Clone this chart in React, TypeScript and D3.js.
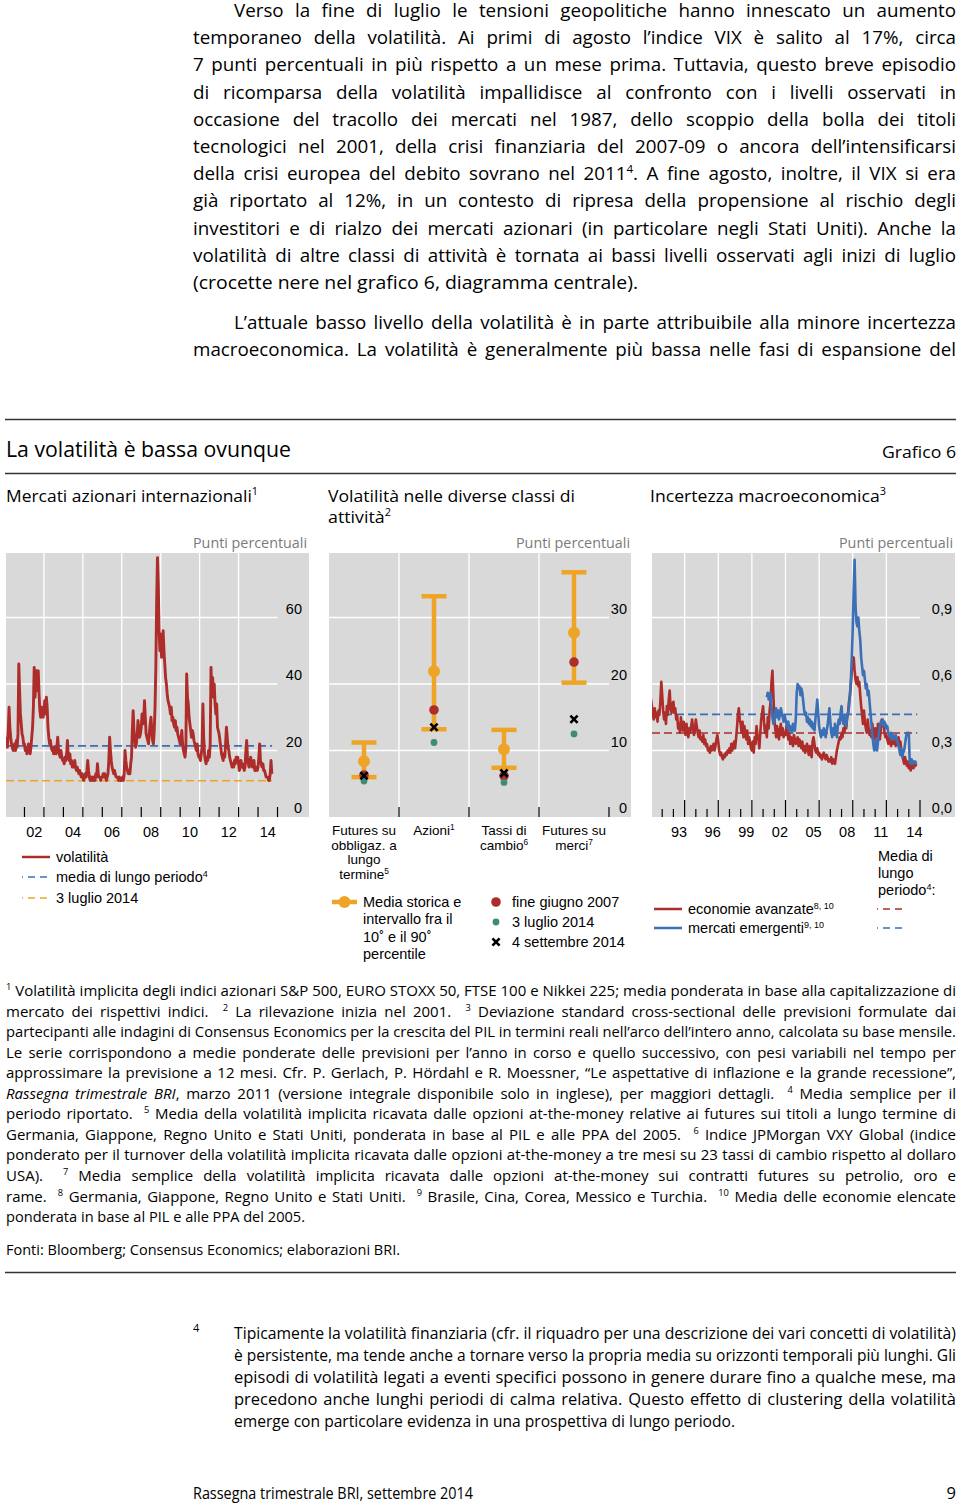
import React, { useEffect, useRef } from "react";
import * as d3 from "d3";

// ---------------- DATA ----------------
// Panel 1: implied equity volatility, semi-monthly readings, Jan 2001 – Sep 2014
const equityVolatility: number[] = [
  // 2001
  24, 22, 23, 21, 26, 33, 27, 24, 22, 21, 20, 21, 22, 20, 23, 21, 25, 46, 38, 31, 28, 25, 24, 22,
  // 2002
  22, 20, 21, 19, 20, 22, 20, 19, 21, 24, 27, 33, 45, 36, 40, 44, 38, 44, 37, 32, 30, 33, 31, 30,
  // 2003
  32, 35, 31, 36, 33, 27, 24, 22, 23, 21, 20, 21, 19, 21, 20, 19, 21, 24, 20, 19, 18, 20, 18, 17,
  // 2004
  17, 16, 18, 17, 19, 23, 18, 17, 19, 16, 17, 15, 16, 15, 17, 15, 14, 15, 14, 13, 14, 13, 12, 13,
  // 2005
  12, 11, 12, 13, 12, 14, 17, 14, 12, 11, 12, 11, 12, 11, 12, 11, 13, 12, 16, 13, 12, 12, 11, 12,
  // 2006
  12, 13, 12, 13, 12, 11, 12, 13, 17, 24, 20, 17, 15, 14, 13, 14, 13, 12, 12, 12, 11, 12, 11, 11,
  // 2007
  11, 12, 11, 13, 20, 17, 15, 14, 13, 14, 13, 16, 18, 26, 32, 26, 23, 21, 22, 25, 29, 26, 24, 25,
  // 2008
  27, 31, 28, 29, 35, 30, 25, 24, 23, 22, 25, 28, 30, 26, 23, 22, 26, 33, 45, 65, 78, 70, 56, 50,
  // 2009
  55, 48, 52, 56, 50, 46, 42, 40, 37, 35, 34, 33, 31, 33, 29, 30, 28, 27, 29, 26, 27, 25, 24, 23,
  // 2010
  22, 23, 26, 22, 20, 19, 18, 21, 43, 36, 34, 30, 28, 26, 24, 26, 25, 23, 22, 21, 20, 22, 19, 18,
  // 2011
  18, 17, 19, 21, 34, 24, 19, 17, 16, 18, 17, 20, 18, 22, 45, 38, 42, 36, 40, 34, 31, 34, 27, 26,
  // 2012
  25, 23, 21, 19, 18, 17, 19, 18, 22, 27, 24, 21, 20, 18, 17, 16, 15, 16, 15, 17, 16, 18, 17, 18,
  // 2013
  16, 14, 15, 17, 15, 16, 15, 14, 15, 20, 23, 18, 16, 15, 16, 18, 16, 15, 15, 17, 14, 14, 15, 14,
  // 2014
  15, 18, 22, 17, 16, 15, 16, 14, 14, 13, 12, 12, 12, 11, 11, 13, 17, 13,
];
const equityStartYear = 2001;
const equityLongTermMean = 21.4;
const equityJuly2014 = 10.9;
const equityYTicks = [0, 20, 40, 60];
const equityXLabels = [2002, 2004, 2006, 2008, 2010, 2012, 2014];

// Panel 2: volatility across asset classes
const assetKeys = ["bond", "equity", "fx", "commodity"];
const assetLabels: (string | { t: string; s?: boolean })[][][] = [
  [["Futures su"], ["obbligaz. a"], ["lungo"], ["termine", { t: "5", s: true }]],
  [["Azioni", { t: "1", s: true }]],
  [["Tassi di"], ["cambio", { t: "6", s: true }]],
  [["Futures su"], ["merci", { t: "7", s: true }]],
];
const histMean = [8.4, 21.9, 10.2, 27.7];
const pct10 = [6.0, 13.2, 7.4, 20.2];
const pct90 = [11.2, 33.2, 13.1, 36.8];
const endJune2007 = [6.3, 16.1, 6.2, 23.3];
const july2014 = [5.4, 11.2, 5.2, 12.5];
const sept2014 = [6.2, 13.5, 6.6, 14.7];
const assetYTicks = [0, 10, 20, 30];

// Panel 3: macroeconomic uncertainty, monthly
const advancedEconomies: number[] = [
  0.53, 0.50, 0.46, 0.44, 0.49, 0.45, 0.47, 0.43, 0.48, 0.46, 0.52, 0.61, // 1991
  0.55, 0.48, 0.44, 0.47, 0.42, 0.50, 0.46, 0.53, 0.57, 0.49, 0.47, 0.51, // 1992
  0.52, 0.47, 0.49, 0.44, 0.46, 0.40, 0.42, 0.38, 0.45, 0.41, 0.39, 0.43, // 1993
  0.40, 0.37, 0.42, 0.39, 0.36, 0.40, 0.38, 0.41, 0.44, 0.40, 0.37, 0.39, // 1994
  0.44, 0.41, 0.38, 0.36, 0.39, 0.35, 0.36, 0.34, 0.37, 0.33, 0.35, 0.32, // 1995
  0.33, 0.30, 0.31, 0.29, 0.32, 0.30, 0.31, 0.33, 0.30, 0.32, 0.35, 0.37, // 1996
  0.34, 0.30, 0.28, 0.29, 0.27, 0.26, 0.28, 0.27, 0.29, 0.28, 0.30, 0.29, // 1997
  0.31, 0.29, 0.33, 0.30, 0.32, 0.34, 0.31, 0.35, 0.40, 0.46, 0.49, 0.44, // 1998
  0.42, 0.38, 0.43, 0.36, 0.41, 0.37, 0.35, 0.39, 0.33, 0.36, 0.34, 0.31, // 1999
  0.30, 0.34, 0.29, 0.36, 0.33, 0.41, 0.37, 0.35, 0.31, 0.38, 0.44, 0.47, // 2000
  0.50, 0.43, 0.38, 0.41, 0.36, 0.45, 0.40, 0.48, 0.52, 0.61, 0.66, 0.55, // 2001
  0.45, 0.40, 0.36, 0.41, 0.38, 0.35, 0.39, 0.42, 0.37, 0.40, 0.36, 0.38, // 2002
  0.37, 0.41, 0.39, 0.35, 0.38, 0.33, 0.36, 0.34, 0.32, 0.37, 0.35, 0.33, // 2003
  0.34, 0.36, 0.32, 0.35, 0.33, 0.31, 0.34, 0.30, 0.32, 0.29, 0.31, 0.33, // 2004
  0.30, 0.28, 0.32, 0.29, 0.27, 0.34, 0.36, 0.33, 0.30, 0.29, 0.31, 0.28, // 2005
  0.29, 0.27, 0.28, 0.26, 0.28, 0.29, 0.27, 0.26, 0.28, 0.27, 0.25, 0.26, // 2006
  0.25, 0.27, 0.24, 0.26, 0.25, 0.24, 0.27, 0.30, 0.32, 0.34, 0.36, 0.35, // 2007
  0.38, 0.36, 0.40, 0.38, 0.42, 0.40, 0.45, 0.47, 0.52, 0.55, 0.60, 0.66, // 2008
  0.70, 0.72, 0.66, 0.62, 0.60, 0.63, 0.59, 0.61, 0.55, 0.50, 0.46, 0.42, // 2009
  0.48, 0.43, 0.40, 0.38, 0.44, 0.40, 0.37, 0.39, 0.36, 0.42, 0.38, 0.35, // 2010
  0.40, 0.37, 0.36, 0.42, 0.38, 0.35, 0.39, 0.44, 0.41, 0.43, 0.38, 0.36, // 2011
  0.37, 0.35, 0.33, 0.36, 0.34, 0.32, 0.35, 0.33, 0.36, 0.34, 0.32, 0.35, // 2012
  0.33, 0.36, 0.32, 0.34, 0.30, 0.28, 0.26, 0.24, 0.27, 0.25, 0.23, 0.25, // 2013
  0.22, 0.24, 0.21, 0.23, 0.24, 0.22, 0.24, 0.23, 0.24, // 2014
];
const advancedStart = 1991;
const emergingMarkets: number[] = [
  0.54, 0.56, 0.53, 0.55, 0.56, 0.50, 0.45, 0.42, // May–Dec 2001
  0.43, 0.47, 0.49, 0.45, 0.48, 0.44, 0.46, 0.49, 0.47, 0.45, 0.43, 0.46, // 2002
  0.44, 0.42, 0.40, 0.43, 0.39, 0.41, 0.40, 0.38, 0.42, 0.40, 0.39, 0.44, // 2003
  0.56, 0.60, 0.58, 0.59, 0.55, 0.58, 0.56, 0.52, 0.48, 0.46, 0.47, 0.43, // 2004
  0.45, 0.42, 0.44, 0.41, 0.43, 0.40, 0.42, 0.39, 0.44, 0.48, 0.53, 0.47, // 2005
  0.41, 0.38, 0.36, 0.39, 0.37, 0.40, 0.38, 0.36, 0.39, 0.41, 0.45, 0.49, // 2006
  0.43, 0.38, 0.36, 0.40, 0.37, 0.42, 0.39, 0.36, 0.41, 0.44, 0.42, 0.47, // 2007
  0.50, 0.44, 0.42, 0.46, 0.43, 0.41, 0.45, 0.47, 0.50, 0.55, 0.62, 0.72, // 2008
  0.85, 1.02, 1.16, 0.95, 0.88, 0.86, 0.90, 0.84, 0.80, 0.72, 0.68, 0.64, // 2009
  0.66, 0.62, 0.58, 0.60, 0.55, 0.57, 0.52, 0.47, 0.42, 0.37, 0.33, 0.30, // 2010
  0.32, 0.35, 0.30, 0.34, 0.38, 0.41, 0.43, 0.42, 0.44, 0.41, 0.43, 0.42, // 2011
  0.40, 0.41, 0.38, 0.37, 0.36, 0.38, 0.35, 0.37, 0.36, 0.35, 0.37, 0.35, // 2012
  0.34, 0.32, 0.30, 0.28, 0.31, 0.27, 0.29, 0.30, 0.33, 0.36, 0.38, 0.37, // 2013
  0.38, 0.25, 0.24, 0.26, 0.25, 0.24, 0.25, 0.25, 0.24, // 2014
];
const emergingStart = 2001 + 4 / 12;
const advancedMean = 0.379;
const emergingMean = 0.463;
const macroYTicks = [0, 0.3, 0.6, 0.9];
const macroXLabels = [1993, 1996, 1999, 2002, 2005, 2008, 2011, 2014];

// ---------------- TEXT ----------------
type Seg = string | { t: string; s?: boolean; i?: boolean };
const sup = (t: string): Seg => ({ t, s: true });

const para1: Seg[][] = [
  ["Verso la fine di luglio le tensioni geopolitiche hanno innescato un aumento"],
  ["temporaneo della volatilità. Ai primi di agosto l’indice VIX è salito al 17%, circa"],
  ["7 punti percentuali in più rispetto a un mese prima. Tuttavia, questo breve episodio"],
  ["di ricomparsa della volatilità impallidisce al confronto con i livelli osservati in"],
  ["occasione del tracollo dei mercati nel 1987, dello scoppio della bolla dei titoli"],
  ["tecnologici nel 2001, della crisi finanziaria del 2007-09 o ancora dell’intensificarsi"],
  ["della crisi europea del debito sovrano nel 2011", sup("4"), ". A fine agosto, inoltre, il VIX si era"],
  ["già riportato al 12%, in un contesto di ripresa della propensione al rischio degli"],
  ["investitori e di rialzo dei mercati azionari (in particolare negli Stati Uniti). Anche la"],
  ["volatilità di altre classi di attività è tornata ai bassi livelli osservati agli inizi di luglio"],
  ["(crocette nere nel grafico 6, diagramma centrale)."],
];
const para2: Seg[][] = [
  ["L’attuale basso livello della volatilità è in parte attribuibile alla minore incertezza"],
  ["macroeconomica. La volatilità è generalmente più bassa nelle fasi di espansione del"],
];
const notes: Seg[][] = [
  [sup("1"), " Volatilità implicita degli indici azionari S&P 500, EURO STOXX 50, FTSE 100 e Nikkei 225; media ponderata in base alla capitalizzazione di"],
  ["mercato dei rispettivi indici.  ", sup("2"), " La rilevazione inizia nel 2001.  ", sup("3"), " Deviazione standard cross-sectional delle previsioni formulate dai"],
  ["partecipanti alle indagini di Consensus Economics per la crescita del PIL in termini reali nell’arco dell’intero anno, calcolata su base mensile."],
  ["Le serie corrispondono a medie ponderate delle previsioni per l’anno in corso e quello successivo, con pesi variabili nel tempo per"],
  ["approssimare la previsione a 12 mesi. Cfr. P. Gerlach, P. Hördahl e R. Moessner, “Le aspettative di inflazione e la grande recessione”,"],
  [{ t: "Rassegna trimestrale BRI", i: true }, ", marzo 2011 (versione integrale disponibile solo in inglese), per maggiori dettagli.  ", sup("4"), " Media semplice per il"],
  ["periodo riportato.  ", sup("5"), " Media della volatilità implicita ricavata dalle opzioni at-the-money relative ai futures sui titoli a lungo termine di"],
  ["Germania, Giappone, Regno Unito e Stati Uniti, ponderata in base al PIL e alle PPA del 2005.  ", sup("6"), " Indice JPMorgan VXY Global (indice"],
  ["ponderato per il turnover della volatilità implicita ricavata dalle opzioni at-the-money a tre mesi su 23 tassi di cambio rispetto al dollaro"],
  ["USA).  ", sup("7"), " Media semplice della volatilità implicita ricavata dalle opzioni at-the-money sui contratti futures su petrolio, oro e"],
  ["rame.  ", sup("8"), " Germania, Giappone, Regno Unito e Stati Uniti.  ", sup("9"), " Brasile, Cina, Corea, Messico e Turchia.  ", sup("10"), " Media delle economie elencate"],
  ["ponderata in base al PIL e alle PPA del 2005."],
];
const footPara: Seg[][] = [
  ["Tipicamente la volatilità finanziaria (cfr. il riquadro per una descrizione dei vari concetti di volatilità)"],
  ["è persistente, ma tende anche a tornare verso la propria media su orizzonti temporali più lunghi. Gli"],
  ["episodi di volatilità legati a eventi specifici possono in genere durare fino a qualche mese, ma"],
  ["precedono anche lunghi periodi di calma relativa. Questo effetto di clustering della volatilità"],
  ["emerge con particolare evidenza in una prospettiva di lungo periodo."],
];

// ---------------- STYLE ----------------
const GRAY = "#d9d9d9";
const RED = "#ac2d2a";
const BLUE = "#3b6fb6";
const ORANGE = "#eea427";
const GREEN = "#3f8b74";
const BODY = "'Open Sans', 'Noto Sans', sans-serif";
const CH = "'Liberation Sans', Arial, sans-serif";

function T({ x, y, segs, size, family = BODY, w, mode, anchor, fill = "#000", supScale = 0.62 }: any) {
  return (
    <text
      x={x}
      y={y}
      fontSize={size}
      fontFamily={family}
      textAnchor={anchor}
      fill={fill}
      data-w={w}
      data-mode={mode}
      style={{ whiteSpace: "pre" }}
    >
      {segs.map((s: Seg, i: number) =>
        typeof s === "string" ? (
          <tspan key={i}>{s}</tspan>
        ) : (
          <tspan
            key={i}
            baselineShift={s.s ? "super" : undefined}
            fontSize={s.s ? size * supScale : undefined}
            fontStyle={s.i ? "italic" : undefined}
          >
            {s.t}
          </tspan>
        )
      )}
    </text>
  );
}

function fitAll(svg: SVGSVGElement) {
  d3.select(svg)
    .selectAll("text[data-w]")
    .each(function (this: any) {
      const el = this as SVGTextElement;
      const w = +(el.getAttribute("data-w") || 0);
      const mode = el.getAttribute("data-mode");
      el.style.wordSpacing = "0px";
      el.removeAttribute("textLength");
      el.removeAttribute("lengthAdjust");
      const w0 = el.getComputedTextLength();
      if (mode === "j") {
        const n = (el.textContent || "").split(" ").length - 1;
        const ws = n > 0 ? (w - w0) / n : 0;
        if (ws >= -0.6) {
          el.style.wordSpacing = `${ws}px`;
        } else {
          el.setAttribute("textLength", String(w));
          el.setAttribute("lengthAdjust", "spacingAndGlyphs");
        }
      } else {
        el.setAttribute("textLength", String(w));
        el.setAttribute("lengthAdjust", "spacingAndGlyphs");
      }
    });
}

export default function App() {
  const ref = useRef<SVGSVGElement>(null);
  useEffect(() => {
    document.body.style.margin = "0";
    if (ref.current) fitAll(ref.current);
    const f: any = (document as any).fonts;
    if (f && f.ready) f.ready.then(() => ref.current && fitAll(ref.current));
  }, []);

  // ---- panel 1 scales
  const x1 = d3.scaleLinear().domain([2001, 2015]).range([5, 277.5]);
  const y1 = d3.scaleLinear().domain([0, 80]).range([817, 551]);
  const eq = equityVolatility.map((v, i) => ({ t: equityStartYear + i / 24, v }));
  const line1 = d3
    .line<{ t: number; v: number }>()
    .x((d) => x1(d.t))
    .y((d) => y1(d.v));

  // ---- panel 2 scales
  const x2 = d3.scaleBand<string>().domain(assetKeys).range([329, 609]);
  const y2 = d3.scaleLinear().domain([0, 40]).range([817, 551]);
  const cx2 = (i: number) => (x2(assetKeys[i]) as number) + x2.bandwidth() / 2;

  // ---- panel 3 scales
  const x3 = d3.scaleLinear().domain([1991, 2015]).range([651, 920]);
  const y3 = d3.scaleLinear().domain([0, 1.2]).range([817, 551]);
  const ae = advancedEconomies.map((v, i) => ({ t: advancedStart + i / 12, v }));
  const em = emergingMarkets.map((v, i) => ({ t: emergingStart + i / 12, v }));
  const line3 = d3
    .line<{ t: number; v: number }>()
    .x((d) => x3(d.t))
    .y((d) => y3(d.v));
  const fmt3 = (v: number) => d3.format(".1f")(v).replace(".", ",");

  const TOP = 553;
  const BOT = 817;

  const Xmark = ({ cx, cy, r = 3.6 }: any) => (
    <g stroke="#000" strokeWidth={2.6} strokeLinecap="butt">
      <line x1={cx - r} y1={cy - r} x2={cx + r} y2={cy + r} />
      <line x1={cx - r} y1={cy + r} x2={cx + r} y2={cy - r} />
    </g>
  );

  return (
    <svg
      ref={ref}
      width={960}
      height={1504}
      viewBox="0 0 960 1504"
      style={{ position: "absolute", left: 0, top: 0, display: "block", background: "#fff" }}
    >
      <defs>
        <clipPath id="clip1">
          <rect x={6} y={TOP} width={272} height={BOT - TOP} />
        </clipPath>
        <clipPath id="clip3">
          <rect x={652} y={TOP} width={268} height={BOT - TOP} />
        </clipPath>
      </defs>

      {/* ---------- body text ---------- */}
      {para1.map((segs, i) => (
        <T
          key={"p1" + i}
          x={i === 0 ? 234 : 193}
          y={17 + i * 27.2}
          segs={segs}
          size={18.8}
          w={i === 0 ? 722 : i === para1.length - 1 ? 445 : 763}
          mode={i === para1.length - 1 ? "f" : "j"}
        />
      ))}
      {para2.map((segs, i) => (
        <T key={"p2" + i} x={i === 0 ? 234 : 193} y={329 + i * 27.2} segs={segs} size={18.8} w={i === 0 ? 722 : 763} mode="j" />
      ))}

      {/* ---------- chart header ---------- */}
      <line x1={5} x2={956} y1={419.5} y2={419.5} stroke="#333" strokeWidth={1.3} />
      <T x={6} y={457} segs={["La volatilità è bassa ovunque"]} size={21} w={285} mode="f" />
      <T x={956} y={458} anchor="end" segs={["Grafico 6"]} size={17} w={74} mode="f" />
      <line x1={5} x2={956} y1={473.5} y2={473.5} stroke="#333" strokeWidth={1.3} />

      <T x={6} y={502} segs={["Mercati azionari internazionali", sup("1")]} size={17} w={252} mode="f" />
      <T x={328} y={502} segs={["Volatilità nelle diverse classi di"]} size={17} w={247} mode="f" />
      <T x={328} y={523} segs={["attività", sup("2")]} size={17} w={63} mode="f" />
      <T x={650} y={502} segs={["Incertezza macroeconomica", sup("3")]} size={17} w={236} mode="f" />
      {[307, 630, 953].map((x) => (
        <T key={"pp" + x} x={x} y={548} anchor="end" segs={["Punti percentuali"]} size={14.5} fill="#7a7a7a" w={114} mode="f" />
      ))}

      {/* ---------- panel 1 ---------- */}
      <rect x={6} y={TOP} width={303} height={BOT - TOP} fill={GRAY} />
      {equityYTicks.filter((v) => v > 0).map((v) => (
        <line key={"g1h" + v} x1={6} x2={x1(2015)} y1={y1(v)} y2={y1(v)} stroke="#fff" strokeWidth={1.3} />
      ))}
      {d3.range(2003, 2015, 2).map((yr) => (
        <line key={"g1v" + yr} x1={x1(yr)} x2={x1(yr)} y1={TOP} y2={BOT} stroke="#fff" strokeWidth={1.3} />
      ))}
      <g clipPath="url(#clip1)">
        <line x1={6} x2={x1(2014.72)} y1={y1(equityLongTermMean)} y2={y1(equityLongTermMean)} stroke={BLUE} strokeWidth={1.6} strokeDasharray="8 4" />
        <line x1={6} x2={x1(2014.72)} y1={y1(equityJuly2014)} y2={y1(equityJuly2014)} stroke={ORANGE} strokeWidth={1.6} strokeDasharray="8 4" />
        <path d={line1(eq) || ""} fill="none" stroke={RED} strokeWidth={2.9} strokeLinejoin="round" />
      </g>
      {d3.range(2002, 2016).map((yr) => (
        <line key={"t1" + yr} x1={x1(yr)} x2={x1(yr)} y1={BOT - 10} y2={BOT} stroke="#000" strokeWidth={1.2} />
      ))}
      {equityYTicks.map((v) => (
        <text key={"l1y" + v} x={302} y={y1(v) - 4} textAnchor="end" fontFamily={CH} fontSize={14.5}>
          {v}
        </text>
      ))}
      {equityXLabels.map((yr) => (
        <text key={"l1x" + yr} x={x1(yr + 0.5)} y={837} textAnchor="middle" fontFamily={CH} fontSize={14.5}>
          {String(yr).slice(2)}
        </text>
      ))}
      {/* legend 1 */}
      <line x1={22} x2={50} y1={857} y2={857} stroke={RED} strokeWidth={2.5} />
      <line x1={22} x2={50} y1={877} y2={877} stroke={BLUE} strokeWidth={1.6} strokeDasharray="7 5" strokeDashoffset={6} />
      <line x1={22} x2={50} y1={898} y2={898} stroke={ORANGE} strokeWidth={1.6} strokeDasharray="7 5" strokeDashoffset={6} />
      <T x={56} y={862} segs={["volatilità"]} size={14.5} family={CH} />
      <T x={56} y={882} segs={["media di lungo periodo", sup("4")]} size={14.5} family={CH} />
      <T x={56} y={903} segs={["3 luglio 2014"]} size={14.5} family={CH} />

      {/* ---------- panel 2 ---------- */}
      <rect x={329} y={TOP} width={302} height={BOT - TOP} fill={GRAY} />
      {assetYTicks.filter((v) => v > 0).map((v) => (
        <line key={"g2h" + v} x1={329} x2={609} y1={y2(v)} y2={y2(v)} stroke="#fff" strokeWidth={1.3} />
      ))}
      {assetKeys.slice(1).map((k) => (
        <line key={"g2v" + k} x1={x2(k)} x2={x2(k)} y1={TOP} y2={BOT} stroke="#fff" strokeWidth={1.3} />
      ))}
      {assetKeys.map((k, i) => {
        const cx = cx2(i);
        return (
          <g key={"a" + k}>
            <line x1={cx} x2={cx} y1={y2(pct10[i])} y2={y2(pct90[i])} stroke={ORANGE} strokeWidth={4.5} />
            <line x1={cx - 12.5} x2={cx + 12.5} y1={y2(pct10[i])} y2={y2(pct10[i])} stroke={ORANGE} strokeWidth={4.5} />
            <line x1={cx - 12.5} x2={cx + 12.5} y1={y2(pct90[i])} y2={y2(pct90[i])} stroke={ORANGE} strokeWidth={4.5} />
            <circle cx={cx} cy={y2(histMean[i])} r={6} fill={ORANGE} />
            <circle cx={cx} cy={y2(endJune2007[i])} r={4.8} fill={RED} />
            <circle cx={cx} cy={y2(july2014[i])} r={3.4} fill={GREEN} />
            <Xmark cx={cx} cy={y2(sept2014[i])} />
          </g>
        );
      })}
      {assetKeys.map((k) => (
        <line key={"t2" + k} x1={(x2(k) as number) + x2.bandwidth()} x2={(x2(k) as number) + x2.bandwidth()} y1={BOT - 10} y2={BOT} stroke="#000" strokeWidth={1.2} />
      ))}
      {assetYTicks.map((v) => (
        <text key={"l2y" + v} x={627} y={y2(v) - 4} textAnchor="end" fontFamily={CH} fontSize={14.5}>
          {v}
        </text>
      ))}
      {assetLabels.map((lines, i) =>
        lines.map((segs, j) => (
          <T key={"al" + i + "_" + j} x={cx2(i)} y={835 + j * 14.7} anchor="middle" segs={segs} size={13.5} family={CH} />
        ))
      )}
      {/* legend 2 */}
      <line x1={332} x2={357} y1={902} y2={902} stroke={ORANGE} strokeWidth={4.5} />
      <circle cx={344.5} cy={902} r={6} fill={ORANGE} />
      {["Media storica e", "intervallo fra il", "10˚ e il 90˚", "percentile"].map((s, j) => (
        <T key={"lg2" + j} x={363} y={907 + j * 17.3} segs={[s]} size={14.5} family={CH} />
      ))}
      <circle cx={496} cy={902} r={4.8} fill={RED} />
      <circle cx={496} cy={922} r={3.4} fill={GREEN} />
      <Xmark cx={496} cy={942} />
      <T x={512} y={907} segs={["fine giugno 2007"]} size={14.5} family={CH} />
      <T x={512} y={927} segs={["3 luglio 2014"]} size={14.5} family={CH} />
      <T x={512} y={947} segs={["4 settembre 2014"]} size={14.5} family={CH} />

      {/* ---------- panel 3 ---------- */}
      <rect x={652} y={TOP} width={303} height={BOT - TOP} fill={GRAY} />
      {macroYTicks.filter((v) => v > 0).map((v) => (
        <line key={"g3h" + v} x1={652} x2={x3(2015)} y1={y3(v)} y2={y3(v)} stroke="#fff" strokeWidth={1.3} />
      ))}
      {d3.range(1994, 2015, 3).map((yr) => (
        <line key={"g3v" + yr} x1={x3(yr)} x2={x3(yr)} y1={TOP} y2={BOT} stroke="#fff" strokeWidth={1.3} />
      ))}
      <g clipPath="url(#clip3)">
        <line x1={652} x2={x3(2014.75)} y1={y3(emergingMean)} y2={y3(emergingMean)} stroke={BLUE} strokeWidth={1.6} strokeDasharray="8 4" />
        <line x1={652} x2={x3(2014.75)} y1={y3(advancedMean)} y2={y3(advancedMean)} stroke={RED} strokeWidth={1.6} strokeDasharray="8 4" />
        <path d={line3(ae) || ""} fill="none" stroke={RED} strokeWidth={2.6} strokeLinejoin="round" />
        <path d={line3(em) || ""} fill="none" stroke={BLUE} strokeWidth={2.6} strokeLinejoin="round" />
      </g>
      {d3.range(1992, 2016).map((yr) => {
        const long = (yr - 1994) % 3 === 0;
        return <line key={"t3" + yr} x1={x3(yr)} x2={x3(yr)} y1={BOT - (long ? 17 : 8)} y2={BOT} stroke="#000" strokeWidth={1.2} />;
      })}
      {macroYTicks.map((v) => (
        <text key={"l3y" + v} x={952} y={y3(v) - 4} textAnchor="end" fontFamily={CH} fontSize={14.5}>
          {fmt3(v)}
        </text>
      ))}
      {macroXLabels.map((yr) => (
        <text key={"l3x" + yr} x={x3(yr + 0.5)} y={837} textAnchor="middle" fontFamily={CH} fontSize={14.5}>
          {String(yr).slice(2)}
        </text>
      ))}
      {/* legend 3 */}
      <T x={878} y={861} segs={["Media di"]} size={14.5} family={CH} />
      <T x={878} y={878} segs={["lungo"]} size={14.5} family={CH} />
      <T x={878} y={895} segs={["periodo", sup("4"), ":"]} size={14.5} family={CH} />
      <line x1={654} x2={682} y1={909} y2={909} stroke={RED} strokeWidth={2.5} />
      <line x1={654} x2={682} y1={928} y2={928} stroke={BLUE} strokeWidth={2.5} />
      <T x={688} y={914} segs={["economie avanzate", sup("8, 10")]} size={14.5} family={CH} />
      <T x={688} y={933} segs={["mercati emergenti", sup("9, 10")]} size={14.5} family={CH} />
      <line x1={877} x2={905} y1={909} y2={909} stroke={RED} strokeWidth={1.6} strokeDasharray="7 5" strokeDashoffset={6} />
      <line x1={877} x2={905} y1={928} y2={928} stroke={BLUE} strokeWidth={1.6} strokeDasharray="7 5" strokeDashoffset={6} />

      {/* ---------- notes ---------- */}
      {notes.map((segs, i) => (
        <T
          key={"n" + i}
          x={6}
          y={996 + i * 20.55}
          segs={segs}
          size={15}
          w={i === notes.length - 1 ? 299 : 950}
          mode={i === notes.length - 1 ? "f" : "j"}
        />
      ))}
      <T x={6} y={1255} segs={["Fonti: Bloomberg; Consensus Economics; elaborazioni BRI."]} size={15} w={394} mode="f" />
      <line x1={5} x2={956} y1={1272.5} y2={1272.5} stroke="#333" strokeWidth={1.3} />

      {/* ---------- footnote ---------- */}
      <text x={193} y={1332} fontFamily={BODY} fontSize={11}>4</text>
      {footPara.map((segs, i) => (
        <T
          key={"f" + i}
          x={234}
          y={1339 + i * 22}
          segs={segs}
          size={16.5}
          w={i === footPara.length - 1 ? 501 : 722}
          mode={i === footPara.length - 1 ? "f" : "j"}
        />
      ))}
      <T x={193} y={1499} segs={["Rassegna trimestrale BRI, settembre 2014"]} size={16.5} w={280} mode="f" />
      <text x={956} y={1499} textAnchor="end" fontFamily={BODY} fontSize={16.5}>9</text>
    </svg>
  );
}
